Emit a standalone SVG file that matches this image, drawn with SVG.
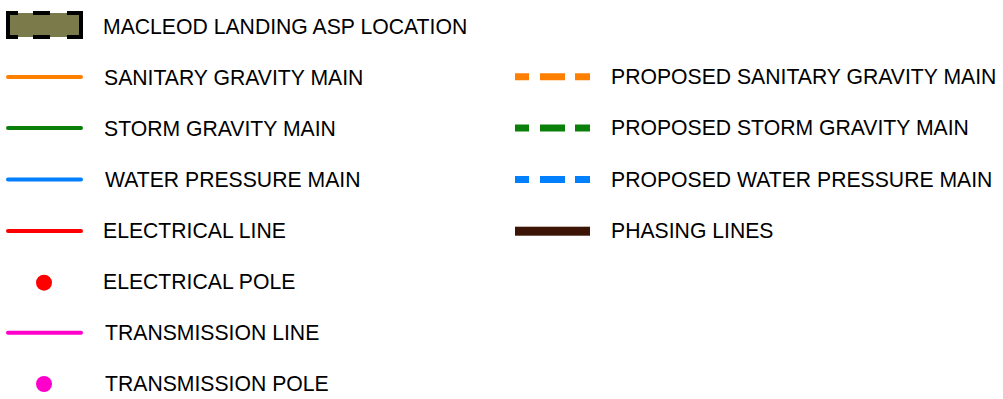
<svg xmlns="http://www.w3.org/2000/svg" width="1003" height="399" viewBox="0 0 1003 399">
  <style>
    .lbl { font-family: "Liberation Sans", Arial, sans-serif; font-size: 21.2px; fill: #000; }
    .ln { stroke-width: 4; stroke-linecap: round; fill: none; }
    .dash { stroke-width: 7; fill: none; stroke-dasharray: 14 11 25 10 15 100; }
  </style>
  <rect width="1003" height="399" fill="#ffffff"/>

  <!-- Left column -->
  <g id="asp-location">
    <rect x="9" y="13" width="71" height="24" fill="#7b7a4b"/>
    <g stroke="#000" stroke-width="4" fill="none">
      <path d="M18 13 H8 V37 H18"/>
      <path d="M67 13 H81 V37 H67"/>
      <path d="M33 13 H50 M33 37 H50"/>
    </g>
    <text class="lbl" x="103" y="34">MACLEOD LANDING ASP LOCATION</text>
  </g>

  <g id="sanitary-gravity-main">
    <line class="ln" x1="8" y1="77" x2="81" y2="77" stroke="#ff8000"/>
    <text class="lbl" x="104" y="85">SANITARY GRAVITY MAIN</text>
  </g>

  <g id="storm-gravity-main">
    <line class="ln" x1="8" y1="128" x2="81" y2="128" stroke="#0a800a"/>
    <text class="lbl" x="104" y="136">STORM GRAVITY MAIN</text>
  </g>

  <g id="water-pressure-main">
    <line class="ln" x1="8" y1="179.5" x2="81" y2="179.5" stroke="#0080ff"/>
    <text class="lbl" x="105" y="187">WATER PRESSURE MAIN</text>
  </g>

  <g id="electrical-line">
    <line class="ln" x1="8" y1="231" x2="81" y2="231" stroke="#ff0000"/>
    <text class="lbl" x="103" y="238">ELECTRICAL LINE</text>
  </g>

  <g id="electrical-pole">
    <circle cx="44" cy="282.7" r="8" fill="#ff0000"/>
    <text class="lbl" x="103" y="289">ELECTRICAL POLE</text>
  </g>

  <g id="transmission-line">
    <line class="ln" x1="8" y1="332.7" x2="81" y2="332.7" stroke="#ff00cc"/>
    <text class="lbl" x="105" y="340">TRANSMISSION LINE</text>
  </g>

  <g id="transmission-pole">
    <circle cx="44" cy="384" r="8" fill="#ff00cc"/>
    <text class="lbl" x="105" y="391">TRANSMISSION POLE</text>
  </g>

  <!-- Right column -->
  <g id="proposed-sanitary-gravity-main">
    <line class="dash" x1="515" y1="76.7" x2="590" y2="76.7" stroke="#ff8000"/>
    <text class="lbl" x="611" y="84">PROPOSED SANITARY GRAVITY MAIN</text>
  </g>

  <g id="proposed-storm-gravity-main">
    <line class="dash" x1="515" y1="128" x2="590" y2="128" stroke="#0a800a"/>
    <text class="lbl" x="611" y="135">PROPOSED STORM GRAVITY MAIN</text>
  </g>

  <g id="proposed-water-pressure-main">
    <line class="dash" x1="515" y1="179.6" x2="590" y2="179.6" stroke="#0080ff"/>
    <text class="lbl" x="611" y="187">PROPOSED WATER PRESSURE MAIN</text>
  </g>

  <g id="phasing-lines">
    <rect x="515" y="226.7" width="75" height="9" fill="#3c1405"/>
    <text class="lbl" x="611" y="238">PHASING LINES</text>
  </g>

  <g id="connectors"/>
</svg>
